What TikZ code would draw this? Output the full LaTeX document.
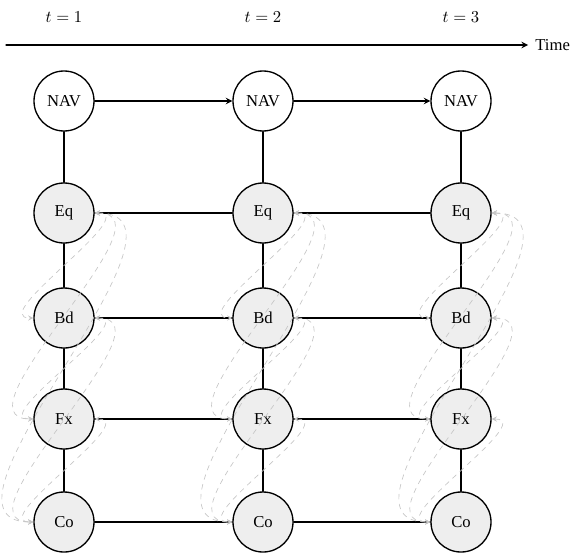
\documentclass[tikz,border=0pt]{standalone}
\usepackage{fontspec}
\setmainfont{Liberation Serif}
\tikzset{
  state/.style={circle,draw,line width=.8pt,minimum size=36pt,inner sep=0pt},
  latent/.style={state,fill=gray!13},
  link/.style={<->,dashed,gray!45,line width=.4pt}
}
\begin{document}
\begin{tikzpicture}[x=.6pt,y=-.6pt,line join=round,line cap=round,>=stealth,line width=.75pt]
		\useasboundingbox (0,0) rectangle (576,555);
		\foreach \c/\x in {1/64,2/263,3/461}{
			\node (t\c) at (\x,17) {$t=\c$};
			\node[state] (N\c) at (\x,101) {NAV};
			\foreach \r/\y in {Eq/213,Bd/318,Fx/419,Co/522}\node[latent] (\r\c) at (\x,\y) {\r};
		}
		\coordinate (start) at (6,45);
		\node[right,inner sep=4pt] (time) at (528,45) {Time};
		\draw[->] (start)--(time.west);
		\foreach \c in {1,2,3}\draw (N\c)--(Eq\c)--(Bd\c)--(Fx\c)--(Co\c);
		\foreach \a/\b in {1/2,2/3}{
			\draw[->] (N\a)--(N\b);
			\foreach \r in {Eq,Bd,Fx,Co}\draw (\r\a)--(\r\b);
		}
		\foreach \c in {1,2,3}
			\foreach \u/\l in {Eq/Bd,Eq/Fx,Eq/Co,Bd/Fx,Bd/Co,Fx/Co}\draw[link] (\u\c) to[out=0,in=180] (\l\c);
	\end{tikzpicture}
\end{document}
